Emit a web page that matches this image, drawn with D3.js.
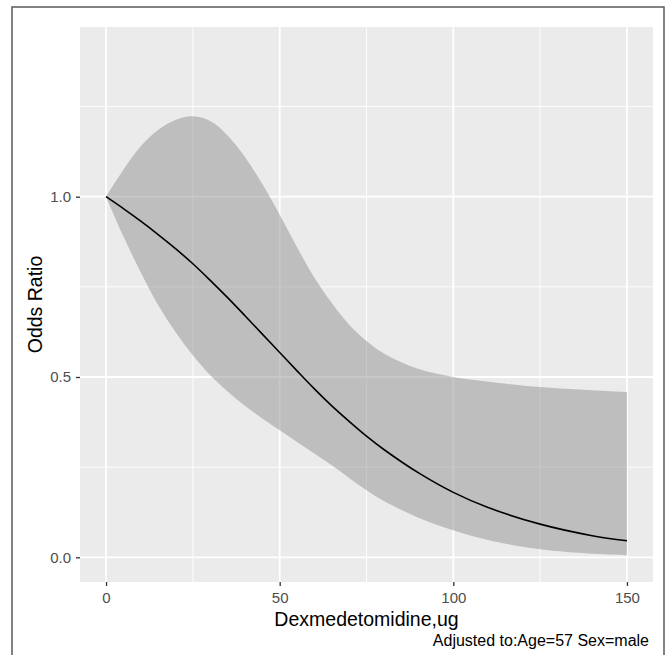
<!DOCTYPE html>
<html>
<head>
<meta charset="utf-8">
<script src="https://cdn.jsdelivr.net/npm/d3@7"></script>
<style>
  body { margin: 0; background: #fff; }
  text { font-family: "Liberation Sans", Arial, sans-serif; }
</style>
</head>
<body>
<svg id="chart" width="667" height="655"></svg>
<script>
var dose = [0, 5, 10, 15, 20, 25, 30, 35, 40, 45, 50, 55, 60, 65, 70, 75, 80, 90, 100, 110, 125, 140, 150];
// odds ratio estimate
var oddsRatio = [1.0, 0.967, 0.932, 0.895, 0.856, 0.814, 0.768, 0.72, 0.67, 0.619, 0.568, 0.517, 0.467, 0.42, 0.377, 0.336, 0.299, 0.234, 0.18, 0.138, 0.092, 0.06, 0.046];
// confidence band
var upper = [1.0, 1.075, 1.14, 1.185, 1.213, 1.223, 1.21, 1.17, 1.11, 1.035, 0.95, 0.86, 0.775, 0.705, 0.645, 0.6, 0.565, 0.522, 0.5, 0.487, 0.472, 0.463, 0.458];
var lower = [1.0, 0.89, 0.79, 0.7, 0.625, 0.56, 0.505, 0.46, 0.42, 0.385, 0.352, 0.32, 0.288, 0.255, 0.22, 0.186, 0.156, 0.11, 0.075, 0.048, 0.022, 0.01, 0.006];

var xTicks = [0, 50, 100, 150];
var xMinor = [25, 75, 125];
var yTicks = [0, 0.5, 1.0];
var yMinor = [0.25, 0.75, 1.25];

var svg = d3.select("#chart");

var panel = {left: 80, top: 27, right: 653, bottom: 582};

var x = d3.scaleLinear().domain([-7.5, 157.5]).range([panel.left, panel.right]);
var y = d3.scaleLinear().domain([-0.0685, 1.4706]).range([panel.bottom, panel.top]);

// outer frame
svg.append("rect")
    .attr("x", 12).attr("y", 7)
    .attr("width", 652).attr("height", 660)
    .attr("fill", "none")
    .attr("stroke", "#5a5a5a")
    .attr("stroke-width", 1.5);

// panel background
svg.append("rect")
    .attr("x", panel.left).attr("y", panel.top)
    .attr("width", panel.right - panel.left)
    .attr("height", panel.bottom - panel.top)
    .attr("fill", "#ebebeb");

var grid = svg.append("g");

grid.selectAll(".xminor").data(xMinor).enter().append("line")
    .attr("x1", x).attr("x2", x)
    .attr("y1", panel.top).attr("y2", panel.bottom)
    .attr("stroke", "#fff").attr("stroke-width", 0.9);

grid.selectAll(".yminor").data(yMinor).enter().append("line")
    .attr("y1", y).attr("y2", y)
    .attr("x1", panel.left).attr("x2", panel.right)
    .attr("stroke", "#fff").attr("stroke-width", 0.9);

grid.selectAll(".xmajor").data(xTicks).enter().append("line")
    .attr("x1", x).attr("x2", x)
    .attr("y1", panel.top).attr("y2", panel.bottom)
    .attr("stroke", "#fff").attr("stroke-width", 1.8);

grid.selectAll(".ymajor").data(yTicks).enter().append("line")
    .attr("y1", y).attr("y2", y)
    .attr("x1", panel.left).attr("x2", panel.right)
    .attr("stroke", "#fff").attr("stroke-width", 1.8);

var rows = dose.map(function (d, i) {
    return {x: d, est: oddsRatio[i], lo: lower[i], hi: upper[i]};
});

var band = d3.area()
    .curve(d3.curveCatmullRom)
    .x(function (d) { return x(d.x); })
    .y0(function (d) { return y(d.lo); })
    .y1(function (d) { return y(d.hi); });

svg.append("path")
    .datum(rows)
    .attr("d", band)
    .attr("fill", "#919191")
    .attr("fill-opacity", 0.5);

var line = d3.line()
    .curve(d3.curveCatmullRom)
    .x(function (d) { return x(d.x); })
    .y(function (d) { return y(d.est); });

svg.append("path")
    .datum(rows)
    .attr("d", line)
    .attr("fill", "none")
    .attr("stroke", "#000")
    .attr("stroke-width", 1.6);

// axes
var xAxis = svg.append("g")
    .attr("transform", "translate(0," + panel.bottom + ")")
    .call(d3.axisBottom(x).tickValues(xTicks).tickSize(4).tickPadding(6).tickFormat(d3.format("d")));

var yAxis = svg.append("g")
    .attr("transform", "translate(" + panel.left + ",0)")
    .call(d3.axisLeft(y).tickValues(yTicks).tickSize(4).tickPadding(5).tickFormat(d3.format(".1f")));

[xAxis, yAxis].forEach(function (ax) {
    ax.select(".domain").remove();
    ax.selectAll(".tick line").attr("stroke", "#333").attr("stroke-width", 1.3);
    ax.selectAll(".tick text")
        .attr("fill", "#4d4d4d")
        .style("font-size", "15px")
        .style("font-family", "'Liberation Sans', Arial, sans-serif");
});

// axis titles
svg.append("text")
    .attr("x", (panel.left + panel.right) / 2)
    .attr("y", 626)
    .attr("text-anchor", "middle")
    .style("font-size", "19.5px")
    .attr("fill", "#000")
    .text("Dexmedetomidine,ug");

svg.append("text")
    .attr("transform", "translate(41.5," + (panel.top + panel.bottom) / 2 + ") rotate(-90)")
    .attr("text-anchor", "middle")
    .style("font-size", "19.5px")
    .attr("fill", "#000")
    .text("Odds Ratio");

svg.append("text")
    .attr("x", 649)
    .attr("y", 646)
    .attr("text-anchor", "end")
    .style("font-size", "16px")
    .attr("fill", "#000")
    .text("Adjusted to:Age=57 Sex=male");
</script>
</body>
</html>
